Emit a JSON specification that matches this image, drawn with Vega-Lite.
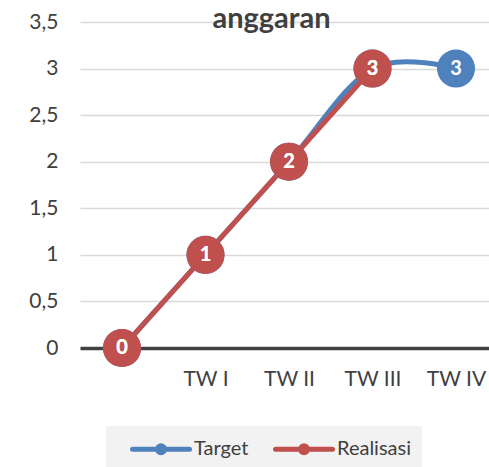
{
  "$schema": "https://vega.github.io/schema/vega-lite/v6.json",
  "autosize": {"type": "none"},
  "width": 409,
  "height": 326,
  "padding": {"left": 80, "top": 22, "right": 0, "bottom": 119},
  "background": "white",
  "title": {
    "text": "anggaran",
    "fontSize": 29,
    "fontWeight": "bold",
    "font": "Lato",
    "color": "#404040",
    "anchor": "middle",
    "frame": "group",
    "dx": -13,
    "baseline": "alphabetic",
    "offset": -46
  },
  "config": {
    "view": {"stroke": null},
    "font": "Lato"
  },
  "data": {
    "values": [
      {"periode": "", "seri": "Target", "nilai": 0},
      {"periode": "TW I", "seri": "Target", "nilai": 1},
      {"periode": "TW II", "seri": "Target", "nilai": 2},
      {"periode": "TW III", "seri": "Target", "nilai": 3},
      {"periode": "TW IV", "seri": "Target", "nilai": 3},
      {"periode": "", "seri": "Realisasi", "nilai": 0},
      {"periode": "TW I", "seri": "Realisasi", "nilai": 1},
      {"periode": "TW II", "seri": "Realisasi", "nilai": 2},
      {"periode": "TW III", "seri": "Realisasi", "nilai": 3}
    ]
  },
  "encoding": {
    "x": {
      "field": "periode",
      "type": "ordinal",
      "sort": ["", "TW I", "TW II", "TW III", "TW IV"],
      "scale": {"type": "point", "domain": ["", "TW I", "TW II", "TW III", "TW IV"], "padding": 0.449, "align": 0.56},
      "axis": {
        "title": null,
        "labelAngle": 0,
        "ticks": false,
        "grid": false,
        "domainColor": "#404040",
        "domainWidth": 3.5,
        "labelFontSize": 21,
        "labelColor": "#404040",
        "labelPadding": 20,
        "labelFont": "Lato"
      }
    },
    "y": {
      "field": "nilai",
      "type": "quantitative",
      "scale": {"domain": [0, 3.5], "nice": false},
      "axis": {
        "title": null,
        "values": [0, 0.5, 1, 1.5, 2, 2.5, 3, 3.5],
        "labelExpr": "replace(format(datum.value, '~g'), '.', ',')",
        "domain": false,
        "ticks": false,
        "gridColor": "#d9d9d9",
        "gridWidth": 1.5,
        "labelFontSize": 21,
        "labelColor": "#404040",
        "labelPadding": 22,
        "labelFont": "Lato"
      }
    },
    "color": {
      "field": "seri",
      "type": "nominal",
      "scale": {"domain": ["Target", "Realisasi"], "range": ["#4f81bd", "#c0504d"]},
      "legend": null
    }
  },
  "layer": [
    {
      "transform": [{"filter": "datum.seri === 'Target'"}],
      "mark": {"type": "line", "strokeWidth": 5, "interpolate": "cardinal", "tension": 0},
      "encoding": {
        "color": {
          "field": "seri",
          "type": "nominal",
          "scale": {"domain": ["Target", "Realisasi"], "range": ["#4f81bd", "#c0504d"]},
          "legend": {
            "title": null,
            "orient": "none",
            "direction": "horizontal",
            "legendX": 26,
            "legendY": 404,
            "fillColor": "#f2f2f2",
            "padding": 11,
            "symbolType": "M-3,0L3,0M-0.36,0A0.36,0.36,0,1,1,0.36,0A0.36,0.36,0,1,1,-0.36,0Z",
            "symbolSize": 361,
            "symbolStrokeWidth": 5,
            "symbolOffset": 32,
            "labelFontSize": 20,
            "labelColor": "#404040",
            "labelFont": "Lato",
            "labelOffset": 21,
            "columnPadding": 11,
            "encode": {
              "symbols": {"update": {"fill": {"scale": "color", "field": "value"}, "strokeCap": {"value": "round"}}}
            }
          }
        }
      }
    },
    {
      "transform": [{"filter": "datum.seri === 'Realisasi'"}],
      "mark": {"type": "line", "strokeWidth": 5},
      "encoding": {}
    },
    {
      "mark": {"type": "point", "filled": true, "opacity": 1, "size": 1450, "shape": "circle"},
      "encoding": {}
    },
    {
      "mark": {"type": "text", "color": "white", "fontWeight": "bold", "fontSize": 20, "font": "Lato", "baseline": "middle", "align": "center"},
      "encoding": {"text": {"field": "nilai", "type": "quantitative"}, "color": {"value": "white"}}
    }
  ]
}
